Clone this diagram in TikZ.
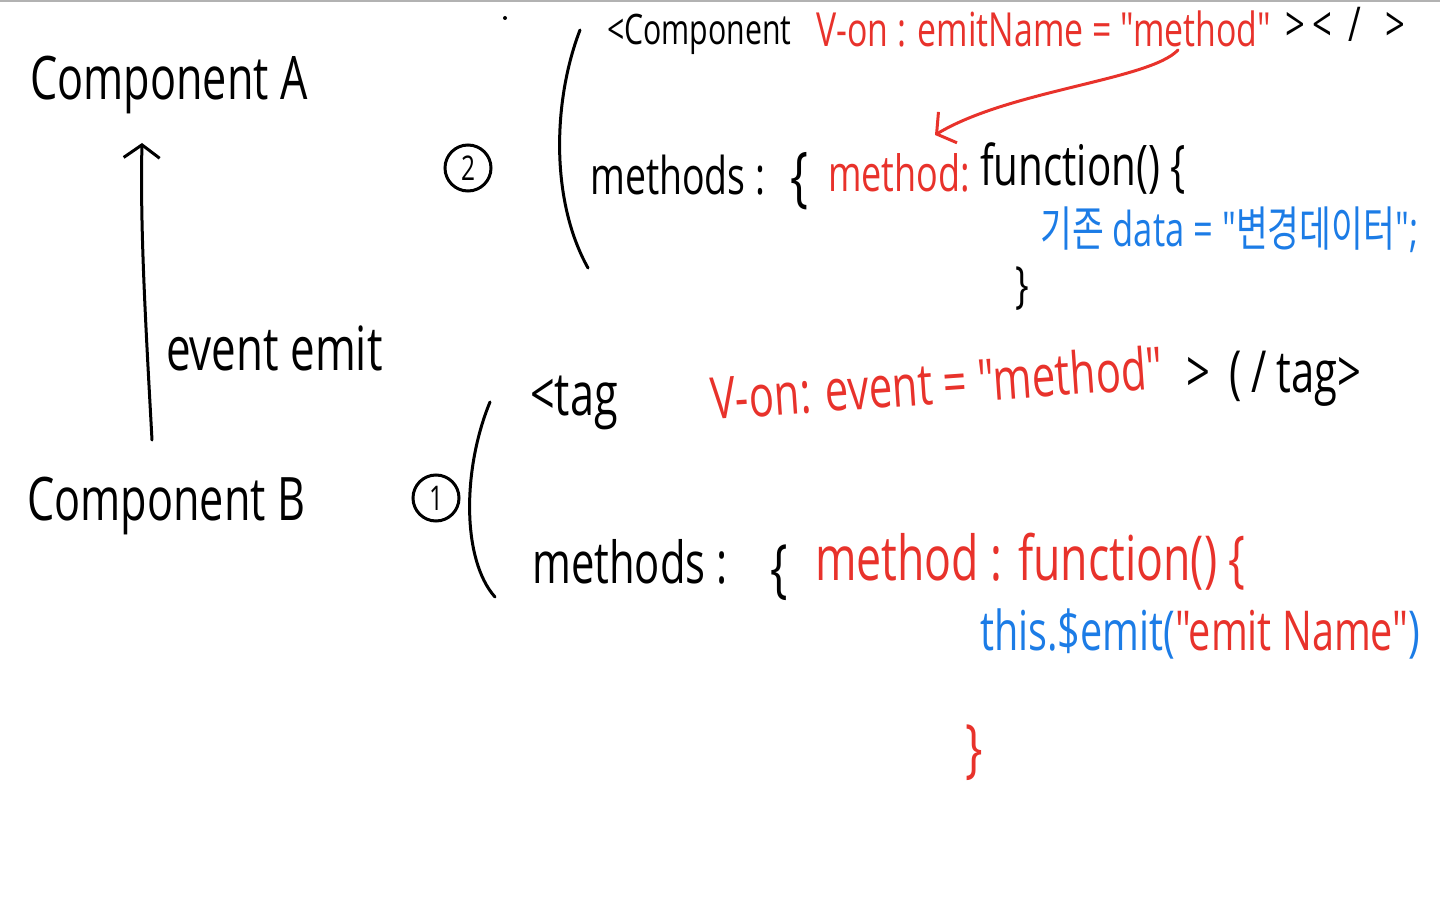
\documentclass[tikz,border=0pt]{standalone}
\usepackage{fontspec}
\newfontfamily\handfont[FakeStretch=0.72]{Open Sans}
\newfontfamily\krfont[FakeStretch=0.72]{Noto Sans CJK KR}
\usetikzlibrary{arrows.meta}
\definecolor{inkred}{HTML}{E8322B}
\definecolor{inkblue}{HTML}{1C7CE6}
\newcommand{\handsize}[1]{\fontsize{#1}{#1}\selectfont}

\begin{document}
\begin{tikzpicture}[
  x=1pt, y=-1pt,
  every node/.style={inner sep=0pt, anchor=base west},
  hand/.style={font=\handfont\handsize{#1}},
  ink/.style={line width=3pt, line cap=round, line join=round},
  barb/.style={-{Straight Barb[length=13pt,width=36pt,line width=3pt]}},
  numbox/.style={circle, draw, line width=3pt, minimum size=46pt, anchor=center, font=\handfont\handsize{34}}
]
\useasboundingbox (0,0) rectangle (1440,904);
\draw[black!30, line width=2pt] (0,1) -- (1440,1);
\fill (505,18) circle (2);

% components and the emitted event
\node[hand=60] (compA) at (30,100) {Component A};
\node[hand=60] (compB) at (27,520) {Component B};
\coordinate (emitFrom) at (152,440);
\coordinate (emitTo) at (142,143);
\draw[ink, barb] (emitFrom) .. controls (146,330) and (140,230) .. (emitTo);
\node[hand=61] (evLbl) at (166,370) {event emit};

% step 2: parent listens
\node[numbox] (numTwo) at (468,168) {2};
\draw[ink] (580,30) .. controls (553,100) and (550,200) .. (588,268);
\node[hand=42] (tagTwo) at (607,45) {<Component};
\node[hand=47, text=inkred] (emitOn) at (816,47) {V-on : emitName = "method"};
\node[hand=48] (closeTwo) at (1285,42) {>\,<\,\,/\hspace{24pt}>};
\node[hand=52] (methodsTwo) at (590,195) {methods :};
\node[hand=66] (braceTwo) at (790,200) {\{};
\node[hand=50, text=inkred] (methodTwo) at (828,192) {method:};
\node[hand=56] (funcTwo) at (980,186) {function() \{};
\node[hand=48, text=inkblue] (dataLine) at (1040,246) {{\krfont 기존} data = "{\krfont 변경데이터}";};
\node[hand=50] (endTwo) at (1015,302) {\}};
\coordinate (arrFrom) at (1178,50);
\coordinate (arrTo) at (935,135);
\draw[ink, inkred, barb] (arrFrom) .. controls (1150,80) and (1010,90) .. (arrTo);

% step 1: child emits
\node[numbox] (numOne) at (436,498) {1};
\draw[ink] (490,402) .. controls (462,470) and (462,560) .. (495,597);
\node[hand=60] (tagOne) at (530,415) {<tag};
\node[hand=58, text=inkred, rotate=4] (eventOn) at (712,420) {V-on: event = "method"};
\node[hand=58] (closeOne) at (1186,392) {>\,\,(\,/\,tag>};
\node[hand=58] (methodsOne) at (532,583) {methods :};
\node[hand=64] (braceOne) at (770,590) {\{};
\node[hand=62, text=inkred] (methodOne) at (815,580) {method : function() \{};
\node[hand=55, text=inkblue] (emitCall) at (980,650) {this.\$emit(\textcolor{inkred}{"emit Name"})};
\node[hand=64, text=inkred] (endOne) at (965,770) {\}};
\end{tikzpicture}
\end{document}
